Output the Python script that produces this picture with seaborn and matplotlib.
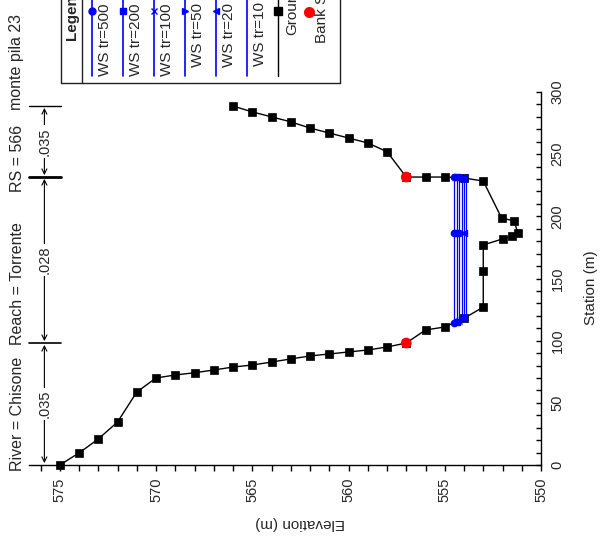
import matplotlib
matplotlib.use("Agg")
import matplotlib.pyplot as plt
import seaborn as sns
import pandas as pd
from matplotlib.lines import Line2D
from matplotlib.ticker import MultipleLocator

# ---------------- data ----------------
ground_elev = [575, 574, 573, 572, 571, 570, 569, 568, 567, 566, 565, 564, 563, 562,
               561, 560, 559, 558, 557, 556, 555, 554, 553, 553, 553, 552, 551.5, 551.2,
               551.4, 552.05, 553, 554, 555, 556, 557, 558, 559, 560, 561, 562, 563,
               564, 565, 566]
ground_sta = [0, 9.7, 20.9, 34.6, 58.7, 70, 72.4, 74.2, 76.4, 78.8, 80.4, 82.8, 85.3, 87.7,
              89.3, 90.9, 92.5, 94.9, 98.1, 108.6, 111, 118, 127, 156, 177, 181.8, 184.2, 186.6,
              196.3, 198.7, 228.4, 230.8, 231.6, 231.6, 231.6, 252, 259, 263, 267, 271, 276,
              280, 284, 288.7]
bank_elev = [557.0, 557.0]
bank_sta = [98.1, 231.6]

ws_labels = ["WS tr=500", "WS tr=200", "WS tr=100", "WS tr=50", "WS tr=20", "WS tr=10"]
ws_elev = [554.52, 554.38, 554.25, 554.12, 554.00, 553.90]
ws_left_sta = [114.3, 115.3, 116.2, 117.2, 118.0, 118.6]
ws_mid_sta = [186.6, 186.6, 186.6, 186.6, 186.6, 186.6]
ws_right_sta = [231.4, 231.4, 231.4, 231.4, 231.4, 231.4]
ws_markers = ["o", "s", "x", ">", "<", "None"]

n_values = [".035", ".028", ".035"]
n_breaks = [0.0, 98.1, 231.6, 288.7]

title_parts = ["River = Chisone", "Reach = Torrente", "RS = 566", "monte pila 23"]
elev_ticks = [575, 570, 565, 560, 555, 550]
sta_ticks = [0, 50, 100, 150, 200, 250, 300]

# ---------------- style ----------------
sns.set_style("ticks")
plt.rcParams["font.family"] = ["Liberation Sans", "DejaVu Sans"]

W, H = 604, 551
fig = plt.figure(figsize=(W / 100, H / 100), dpi=100)
L, R, T, B = 29, 541, 92, 465
ax = fig.add_axes([L / W, 1 - B / H, (R - L) / W, (B - T) / H])

def fx(x):
    return x / W

def fy(y):
    return 1 - y / H

# water surfaces
for lab, e, s0, s1, s2, m in zip(ws_labels, ws_elev, ws_left_sta, ws_mid_sta, ws_right_sta, ws_markers):
    df = pd.DataFrame({"elev": [e, e, e], "sta": [s0, s1, s2]})
    sns.lineplot(data=df, x="elev", y="sta", sort=False, estimator=None, color="blue",
                 lw=0.9, marker=m, markersize=4.5, markeredgecolor="blue",
                 markeredgewidth=1, ax=ax, legend=False, zorder=3)

# ground
gdf = pd.DataFrame({"elev": ground_elev, "sta": ground_sta})
sns.lineplot(data=gdf, x="elev", y="sta", sort=False, estimator=None, color="black",
             lw=1.0, marker="s", markersize=5.5, markeredgecolor="black",
             markeredgewidth=0.5, ax=ax, legend=False, zorder=2, clip_on=False)

# bank stations
sns.scatterplot(x=bank_elev, y=bank_sta, color="red", s=60, edgecolor="none",
                ax=ax, zorder=6, legend=False, clip_on=False)

ax.set_xlim(576.6, 550)
ax.set_ylim(0, 300)
ax.set_xlabel("")
ax.set_ylabel("")
ax.spines["top"].set_visible(False)
ax.spines["left"].set_visible(False)
ax.spines["right"].set_visible(True)
for sp in ("bottom", "right"):
    ax.spines[sp].set_linewidth(1.0)
    ax.spines[sp].set_color("black")
ax.yaxis.tick_right()
ax.set_xticks(elev_ticks)
ax.set_xticklabels([str(v) for v in elev_ticks])
ax.xaxis.set_minor_locator(MultipleLocator(1))
ax.set_yticks(sta_ticks)
ax.set_yticklabels([str(v) for v in sta_ticks])
ax.yaxis.set_minor_locator(MultipleLocator(10))
ax.tick_params(axis="x", which="both", direction="out", length=4.3, width=1,
               color="black", pad=5)
ax.tick_params(axis="x", which="major", labelsize=10.5, labelrotation=90)
ax.tick_params(axis="y", which="both", direction="in", length=3.6, width=1,
               color="black", right=True, left=False, labelright=True, labelleft=False, pad=7)
ax.tick_params(axis="y", which="major", labelsize=10.5, labelrotation=90)
for t in ax.get_yticklabels():
    t.set_verticalalignment("center")

# Manning's n annotations
n_x = 575.8
for i, nv in enumerate(n_values):
    s0, s1 = n_breaks[i], n_breaks[i + 1]
    ax.annotate("", xy=(n_x, s0 + 1.5), xytext=(n_x, s1 - 1.5),
                arrowprops=dict(arrowstyle="<->", color="black", lw=0.8,
                                shrinkA=0, shrinkB=0, mutation_scale=9),
                annotation_clip=False)
    ax.text(n_x, (s0 + s1) / 2, nv, rotation=90, ha="center", va="center", fontsize=10.5,
            bbox=dict(fc="white", ec="none", pad=1.5), clip_on=False, zorder=5)
for s, lw in zip(n_breaks[1:], [1.2, 2.0, 1.0]):
    ax.plot([576.6, 574.95], [s, s], color="black", lw=lw, clip_on=False)

# title
for txt, ys in zip(title_parts, [471, 345, 192, 110]):
    fig.text(fx(17), fy(ys), txt, rotation=90, rotation_mode="anchor",
             ha="left", va="center", fontsize=11.5)

# axis labels
fig.text(fx(300), fy(523), "Elevation (m)", rotation=180, ha="center", va="center", fontsize=11)
fig.text(fx(591), fy(288), "Station (m)", rotation=90, ha="center", va="center", fontsize=11)

# legend (rotated, drawn by hand)
def fline(xs, ys, **kw):
    fig.add_artist(Line2D([fx(v) for v in xs], [fy(v) for v in ys],
                          transform=fig.transFigure, **kw))

box_col = "#222222"
fline([60.5, 60.5], [83, -5], color=box_col, lw=1)
fline([60.5, 340], [83, 83], color=box_col, lw=1)
fline([82, 82], [83, -5], color=box_col, lw=1)
fline([340, 340], [83, -5], color=box_col, lw=1)
fig.text(fx(71.5), fy(40), "Legend", rotation=90, rotation_mode="anchor",
         ha="left", va="center", fontsize=11, fontweight="bold")

leg_x = [92, 123, 154, 185, 216, 247]
leg_text_start = [76, 76, 76, 67, 67, 66]
for lab, m, lx, ts in zip(ws_labels, ws_markers, leg_x, leg_text_start):
    fline([lx, lx], [76, -5], color="blue", lw=1.2)
    fline([lx], [11], color="blue", marker=m, markersize=5, markeredgecolor="blue",
          markeredgewidth=1, linestyle="None")
    fig.text(fx(lx + 13), fy(ts), lab, rotation=90, rotation_mode="anchor",
             ha="left", va="center", fontsize=11)

fline([278, 278], [76, -5], color="black", lw=1)
fline([278], [11], color="black", marker="s", markersize=5.5, linestyle="None")
fig.text(fx(292), fy(35), "Ground", rotation=90, rotation_mode="anchor",
         ha="left", va="center", fontsize=11)
fline([309], [12], color="red", marker="o", markersize=8, markeredgecolor="none", linestyle="None")
fig.text(fx(322), fy(43), "Bank Sta", rotation=90, rotation_mode="anchor",
         ha="left", va="center", fontsize=11)

fig.savefig("out.png", dpi=100, facecolor="white")
